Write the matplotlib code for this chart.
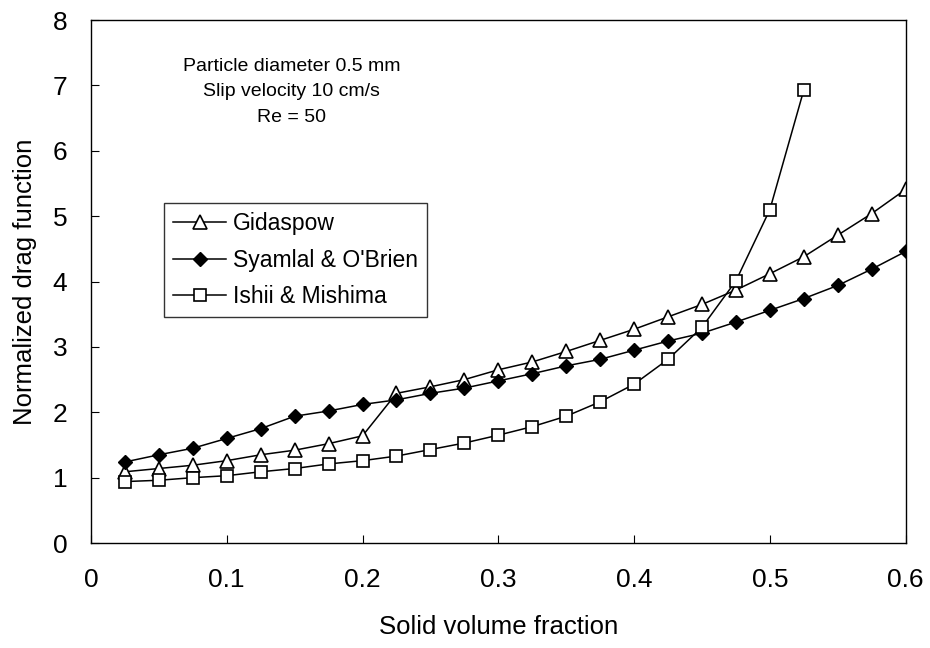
import numpy as np
import matplotlib
matplotlib.use("Agg")
import matplotlib.pyplot as plt

plt.rcParams['font.family'] = ['Liberation Sans', 'DejaVu Sans']

# Fraccion de solidos
fraccion = [0.025, 0.05, 0.075, 0.1, 0.125, 0.15, 0.175, 0.2, 0.225, 0.25, 0.275, 0.3,
            0.325, 0.35, 0.375, 0.4, 0.425, 0.45, 0.475, 0.5, 0.525, 0.55, 0.575, 0.6]

gidaspow = [1.09, 1.14, 1.19, 1.26, 1.35, 1.42, 1.52, 1.64, 2.29, 2.39, 2.50, 2.65,
            2.77, 2.93, 3.10, 3.27, 3.46, 3.65, 3.87, 4.12, 4.38, 4.71, 5.04, 5.41]
syamlal = [1.24, 1.35, 1.45, 1.60, 1.75, 1.94, 2.02, 2.12, 2.19, 2.29, 2.37, 2.48,
           2.59, 2.71, 2.81, 2.95, 3.09, 3.21, 3.38, 3.56, 3.74, 3.94, 4.19, 4.46]
ishii = [0.94, 0.96, 1.00, 1.03, 1.09, 1.14, 1.21, 1.26, 1.33, 1.43, 1.53, 1.65,
         1.78, 1.94, 2.16, 2.43, 2.81, 3.30, 4.01, 5.10, 6.93]

xticks = [0, 0.1, 0.2, 0.3, 0.4, 0.5, 0.6]
xticklabels = ['0', '0.1', '0.2', '0.3', '0.4', '0.5', '0.6']
yticks = [0, 1, 2, 3, 4, 5, 6, 7, 8]

fig = plt.figure(figsize=(9.3, 6.48), dpi=100)
ax = fig.add_axes([0.0978, 0.162, 0.876, 0.807])

ax.plot(fraccion, gidaspow, '-^', color='black', lw=1.1, ms=9.5,
        mfc='white', mec='black', mew=1.2, label='Gidaspow')
ax.plot(fraccion, syamlal, '-D', color='black', lw=1.1, ms=7,
        mfc='black', mec='black', mew=1.0, label="Syamlal & O'Brien")
ax.plot(fraccion[:len(ishii)], ishii, '-s', color='black', lw=1.1, ms=9,
        mfc='white', mec='black', mew=1.2, label='Ishii & Mishima')

ax.set_xlim(0, 0.6)
ax.set_ylim(0, 8)
ax.set_xticks(xticks)
ax.set_xticklabels(xticklabels)
ax.set_yticks(yticks)
ax.tick_params(direction='in', length=6, width=0.8, labelsize=19)
ax.tick_params(axis='x', pad=18)
ax.tick_params(axis='y', pad=17)
for s in ax.spines.values():
    s.set_linewidth(1.0)

ax.set_xlabel('Solid volume fraction', fontsize=18.5)
ax.xaxis.set_label_coords(0.5, -0.161)
ax.xaxis.label.set_va('center')
ax.set_ylabel('Normalized drag function', fontsize=18.5)
ax.yaxis.set_label_coords(-0.081, 0.5)
ax.yaxis.label.set_va('center')

ax.text(0.148, 6.90, 'Particle diameter 0.5 mm\nSlip velocity 10 cm/s\nRe = 50',
        ha='center', va='center', fontsize=14, linespacing=1.65)

leg = ax.legend(loc='upper left', bbox_to_anchor=(0.0898, 0.65), borderaxespad=0,
                fontsize=16.5, frameon=True, fancybox=False, edgecolor='black',
                handlelength=2.3, handletextpad=0.3, labelspacing=0.58, borderpad=0.4)
leg.get_frame().set_linewidth(1.0)

fig.savefig('out.png', dpi=100)
